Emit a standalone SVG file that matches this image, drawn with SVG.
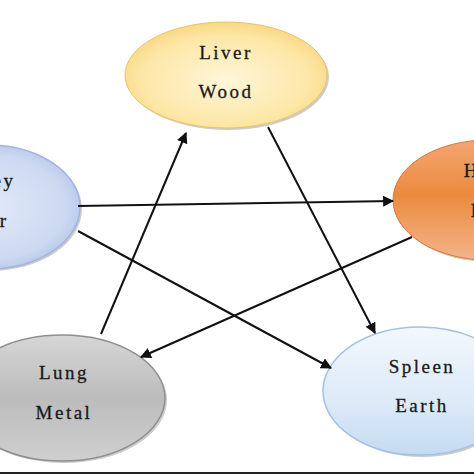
<svg xmlns="http://www.w3.org/2000/svg" width="474" height="474" viewBox="0 0 474 474">
<defs>
<radialGradient id="gLiver" cx="0.5" cy="0.55" r="0.6"><stop offset="0" stop-color="#fff6da"/><stop offset="0.7" stop-color="#fde7a6"/><stop offset="1" stop-color="#f7d276"/></radialGradient>
<radialGradient id="gKidney" cx="0.5" cy="0.5" r="0.6"><stop offset="0" stop-color="#e3eaf8"/><stop offset="0.7" stop-color="#ccd9f1"/><stop offset="1" stop-color="#a9bde6"/></radialGradient>
<linearGradient id="gHeart" x1="0" y1="0" x2="0" y2="1"><stop offset="0" stop-color="#f3a673"/><stop offset="0.45" stop-color="#ec8a3e"/><stop offset="1" stop-color="#f4b48a"/></linearGradient>
<linearGradient id="gLung" x1="0" y1="0" x2="0" y2="1"><stop offset="0" stop-color="#d6d6d6"/><stop offset="0.5" stop-color="#bcbcbc"/><stop offset="1" stop-color="#cfcfcf"/></linearGradient>
<linearGradient id="gSpleen" x1="0" y1="0" x2="0" y2="1"><stop offset="0" stop-color="#f3f8fd"/><stop offset="0.6" stop-color="#dce9f7"/><stop offset="1" stop-color="#c5dbf2"/></linearGradient>
<marker id="ah" viewBox="0 0 10 10" refX="9" refY="5" markerWidth="11" markerHeight="11" markerUnits="userSpaceOnUse" orient="auto"><path d="M0,0 L10,5 L0,10 z" fill="#111"/></marker>
</defs>
<style>
.lbl{font-family:"Liberation Serif","Times New Roman",serif;font-size:19px;letter-spacing:2.5px;fill:#1a1a1a;stroke:#1a1a1a;stroke-width:0.3px;text-anchor:middle}
.conn line{stroke:#111;stroke-width:2;marker-end:url(#ah)}
.shadow{fill:#000;opacity:0.2}
</style>
<rect width="474" height="474" fill="#fff"/>
<g id="liver">
<ellipse class="shadow" cx="228" cy="77" rx="101" ry="53"/>
<ellipse cx="226" cy="75" rx="101" ry="53" fill="url(#gLiver)" stroke="#e9c56a" stroke-width="1"/>
<text class="lbl" x="226" y="59">Liver</text>
<text class="lbl" x="226" y="98">Wood</text>
</g>
<g id="kidney">
<ellipse class="shadow" cx="-10" cy="209" rx="92" ry="62"/>
<ellipse cx="-12" cy="207" rx="92" ry="62" fill="url(#gKidney)" stroke="#9fb4e0" stroke-width="1.5"/>
<text class="lbl" x="-20" y="187">Kidney</text>
<text class="lbl" x="-20" y="227">Water</text>
</g>
<g id="heart">
<ellipse class="shadow" cx="490" cy="202" rx="95" ry="60"/>
<ellipse cx="488" cy="200" rx="95" ry="60" fill="url(#gHeart)" stroke="#d9773a" stroke-width="1"/>
<text class="lbl" x="491" y="177">Heart</text>
<text class="lbl" x="491" y="217">Fire</text>
</g>
<g id="lung">
<ellipse class="shadow" cx="64" cy="400" rx="103" ry="63"/>
<ellipse cx="62" cy="398" rx="103" ry="63" fill="url(#gLung)" stroke="#8f8f8f" stroke-width="1.5"/>
<text class="lbl" x="64" y="379">Lung</text>
<text class="lbl" x="64" y="419">Metal</text>
</g>
<g id="spleen">
<ellipse class="shadow" cx="422" cy="393" rx="97" ry="64"/>
<ellipse cx="420" cy="391" rx="97" ry="64" fill="url(#gSpleen)" stroke="#9fc2e6" stroke-width="1.5"/>
<text class="lbl" x="422" y="373">Spleen</text>
<text class="lbl" x="422" y="412">Earth</text>
</g>
<g id="connectors" class="conn">
<line x1="78" y1="206" x2="393" y2="201"/>
<line x1="78" y1="231" x2="331" y2="368"/>
<line x1="268" y1="127" x2="375" y2="333"/>
<line x1="412" y1="237" x2="141" y2="357"/>
<line x1="101" y1="334" x2="186" y2="133"/>
</g>
<rect x="0" y="472" width="474" height="2" fill="#222"/>
</svg>
